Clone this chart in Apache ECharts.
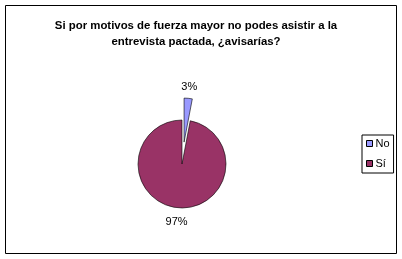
<!DOCTYPE html>
<html>
<head>
<meta charset="utf-8">
<script src="https://cdn.jsdelivr.net/npm/echarts@6/dist/echarts.min.js"></script>
<style>html,body{margin:0;padding:0;background:#fff;}#c{width:402px;height:259px;}</style>
</head>
<body>
<div id="c"></div>
<script>
var titleText = 'Si por motivos de fuerza mayor no podes asistir a la\nentrevista pactada, ¿avisarías?';
var categories = ['No', 'Sí'];
var values = [3, 97];
var colors = ['#9999FF', '#993366'];

var chart = echarts.init(document.getElementById('c'), null, {renderer: 'canvas'});
var pieData = categories.map(function (c, i) {
  return {name: c, value: values[i], selected: i === 0, itemStyle: {color: colors[i]}};
});
var labelData = categories.map(function (c, i) {
  return {name: c, value: values[i], selected: i === 0};
});
chart.setOption({
  animation: false,
  backgroundColor: '#fff',
  graphic: [{
    type: 'rect', shape: {x: 5.5, y: 5.5, width: 391, height: 248},
    style: {fill: 'none', stroke: '#000', lineWidth: 1}, z: 0
  }],
  title: {
    text: titleText, left: 191, top: 13, textAlign: 'center',
    textStyle: {fontFamily: 'Liberation Sans, Arial', fontSize: 11.4, fontWeight: 'bold', color: '#000', lineHeight: 16}
  },
  legend: {
    orient: 'vertical', left: 362, top: 135, data: categories,
    icon: 'rect', itemWidth: 6, itemHeight: 6, itemGap: 9,
    padding: [3, 4, 4, 4], borderColor: '#000', borderWidth: 1,
    selectedMode: false,
    itemStyle: {borderColor: '#000', borderWidth: 1},
    textStyle: {fontFamily: 'Liberation Sans, Arial', fontSize: 11, color: '#000', padding: [0, 0, 0, -2]}
  },
  series: [{
    type: 'pie', center: [182, 164], radius: 44, startAngle: 90, clockwise: true,
    selectedMode: 'single', selectedOffset: 22,
    data: pieData,
    label: {show: false}, labelLine: {show: false},
    itemStyle: {borderColor: '#000', borderWidth: 0.6},
    emphasis: {disabled: true}, silent: true
  }, {
    type: 'pie', center: [182, 164], radius: [0, 110], startAngle: 90, clockwise: true,
    selectedMode: 'single', selectedOffset: 19,
    data: labelData,
    itemStyle: {color: 'rgba(0,0,0,0)', borderWidth: 0},
    label: {show: true, position: 'inside', formatter: '{d}%', fontFamily: 'Liberation Sans, Arial', fontSize: 11, color: '#000'},
    labelLine: {show: false},
    emphasis: {disabled: true}, silent: true, z: 1
  }]
});
</script>
</body>
</html>
